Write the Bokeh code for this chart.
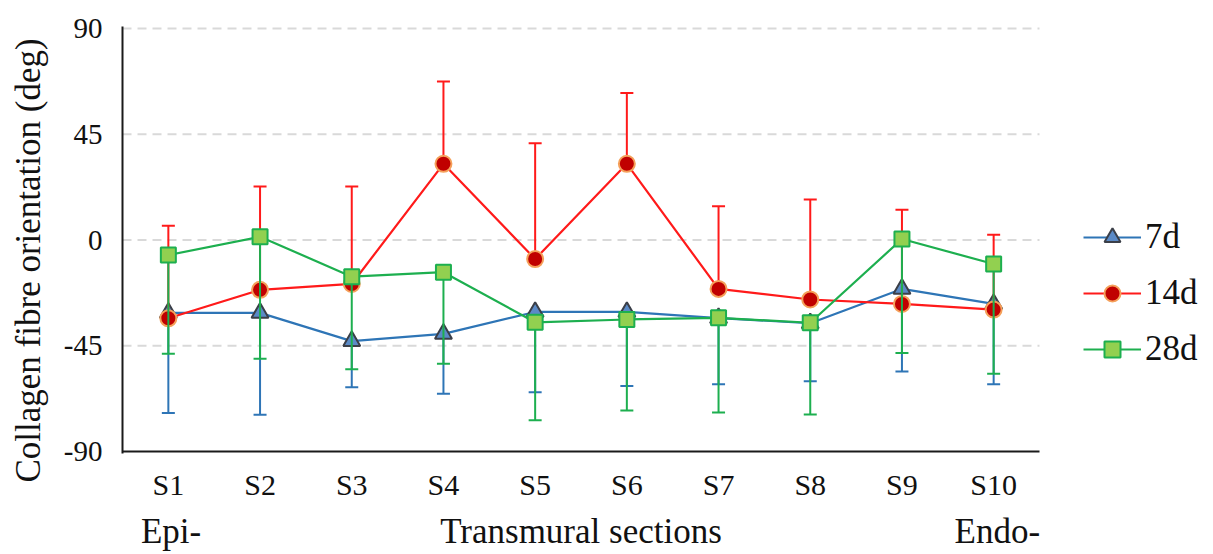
from bokeh.plotting import figure
from bokeh.models import Range1d, FixedTicker, Legend, LegendItem, LinearAxis
from bokeh.embed import file_html
from bokeh.resources import INLINE

sections = ["S1", "S2", "S3", "S4", "S5", "S6", "S7", "S8", "S9", "S10"]
y_ticks = [-90, -45, 0, 45, 90]
y_tick_labels = ["-90", "-45", "0", "45", "90"]

# 7d: mean and lower (minus) error
d7_mean = [-31.0, -31.0, -43.0, -39.9, -30.6, -30.6, -33.2, -35.4, -20.8, -27.2]
d7_err = [42.6, 43.3, 19.6, 25.5, 34.1, 31.5, 28.2, 24.7, 35.1, 34.2]

# 14d: mean and upper (plus) error
d14_mean = [-33.3, -21.2, -18.7, 32.4, -8.1, 32.4, -20.8, -25.3, -27.2, -29.6]
d14_err = [39.4, 44.0, 41.5, 35.0, 49.3, 30.1, 35.2, 42.5, 40.1, 31.8]

# 28d: mean and lower (minus) error
d28_mean = [-6.4, 1.4, -15.6, -13.7, -35.0, -33.8, -33.1, -35.2, 0.4, -10.2]
d28_err = [42.0, 51.9, 39.4, 38.9, 41.7, 38.7, 40.3, 39.0, 48.5, 46.7]

series_names = ["7d", "14d", "28d"]

y_title = "Collagen fibre orientation (deg)"
x_title = "Transmural sections"
x_ends = ["Epi-", "Endo-"]

FONT = "Liberation Serif"
TXT = "#111111"
AXC = "#1a1a1a"

n = len(sections)
xs = [i + 0.5 for i in range(n)]          # centres of the section slots
x_end = n * (1213 - 122) / 917.0           # frame reaches the right edge (legend lives inside)

p = figure(width=1213, height=554,
           x_range=Range1d(0, x_end), y_range=Range1d(-90.8, 90.8),
           output_backend="svg", toolbar_location=None,
           min_border_left=122, min_border_right=0,
           min_border_top=26, min_border_bottom=101)
p.outline_line_color = None
p.background_fill_color = "white"
p.border_fill_color = "white"
p.xgrid.grid_line_color = None
p.ygrid.grid_line_color = None

# dashed horizontal gridlines over the section span only
grid_y = y_ticks[1:]
p.segment(x0=[0] * len(grid_y), x1=[n] * len(grid_y), y0=grid_y, y1=grid_y,
          line_color="#D9D9D9", line_width=2, line_dash="9 6")
# bottom axis line over the section span
p.segment(x0=[0], x1=[n], y0=[y_ticks[0]], y1=[y_ticks[0]],
          line_color=AXC, line_width=2)

p.yaxis.ticker = FixedTicker(ticks=y_ticks)
p.yaxis.major_label_overrides = dict(zip(y_ticks, y_tick_labels))
p.xaxis.ticker = FixedTicker(ticks=xs)
p.xaxis.major_label_overrides = dict(zip(xs, sections))

for ax in (p.xaxis[0], p.yaxis[0]):
    ax.axis_line_color = AXC
    ax.axis_line_width = 2
    ax.major_tick_line_color = None
    ax.minor_tick_line_color = None
    ax.major_label_text_font = FONT
    ax.major_label_text_color = TXT
p.xaxis.axis_line_color = None

p.yaxis.major_label_text_font_size = "29px"
p.yaxis.major_label_standoff = 14
p.xaxis.major_label_text_font_size = "30px"
p.xaxis.major_label_standoff = 8

# Y title as a single rotated label on a second left axis
title_pos = -8.7
ty = LinearAxis(ticker=FixedTicker(ticks=[title_pos]),
                major_label_overrides={title_pos: y_title},
                major_label_orientation="parallel",
                axis_line_color=None, major_tick_line_color=None,
                minor_tick_line_color=None, major_label_standoff=6,
                major_label_text_font=FONT, major_label_text_font_size="35px",
                major_label_text_color=TXT)
p.add_layout(ty, "left")

# Bottom titles: Epi-, Transmural sections, Endo-
bx_pos = [0.53, 5.0, 9.54]
bx_lab = [x_ends[0], x_title, x_ends[1]]
tx = LinearAxis(ticker=FixedTicker(ticks=bx_pos),
                major_label_overrides=dict(zip(bx_pos, bx_lab)),
                axis_line_color=None, major_tick_line_color=None,
                minor_tick_line_color=None, major_label_standoff=2,
                major_label_text_font=FONT, major_label_text_font_size="35px",
                major_label_text_color=TXT)
p.add_layout(tx, "below")


def draw(mean, err, sign, line_col, err_col, marker, fill, edge, size):
    ends = [m + sign * e for m, e in zip(mean, err)]
    p.segment(x0=xs, y0=mean, x1=xs, y1=ends,
              line_color=err_col, line_width=2)
    p.scatter(x=xs, y=ends, marker="dash", size=13,
              line_color=err_col, line_width=2)
    lr = p.line(x=xs, y=mean, line_color=line_col, line_width=2.2)
    mr = p.scatter(x=xs, y=mean, marker=marker, size=size,
                   fill_color=fill, line_color=edge, line_width=2)
    return lr, mr


r7 = draw(d7_mean, d7_err, -1, "#2E75B6", "#2E75B6", "triangle", "#5B8AC6", "#3B3F48", 17)
r14 = draw(d14_mean, d14_err, 1, "#FF1A1A", "#FF1A1A", "circle", "#C00000", "#F5A05A", 16)
r28 = draw(d28_mean, d28_err, -1, "#1DAF4F", "#1DAF4F", "square", "#92D050", "#1DAF4F", 15)

legend = Legend(items=[LegendItem(label=s, renderers=list(r))
                       for s, r in zip(series_names, [r7, r14, r28])],
                location=(961, 84), orientation="vertical",
                glyph_width=58, glyph_height=40, label_height=40,
                label_standoff=4, spacing=16, padding=0, margin=0,
                label_text_font=FONT, label_text_font_size="35px",
                label_text_color=TXT,
                border_line_color=None, background_fill_alpha=0)
p.add_layout(legend, "center")

open("out.html", "w").write(file_html(p, INLINE))
